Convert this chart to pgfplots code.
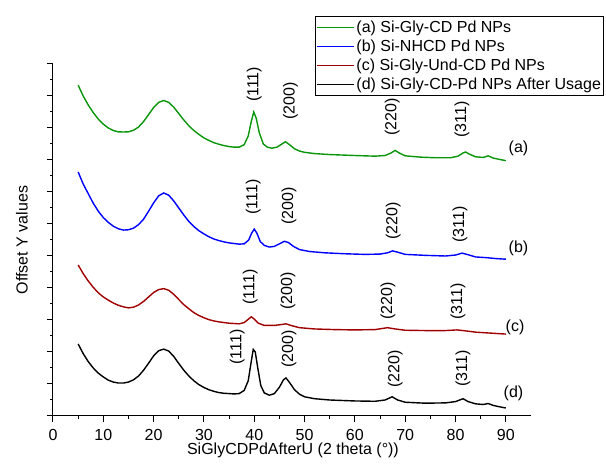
\documentclass[border=0pt]{standalone}
\usepackage{fontspec}
\setmainfont{Liberation Sans}
\usepackage{pgfplots}
\pgfplotsset{compat=1.18}
\definecolor{cA}{RGB}{10,150,10}
\definecolor{cB}{RGB}{0,0,255}
\definecolor{cC}{RGB}{160,0,0}
\definecolor{cD}{RGB}{0,0,0}

\begin{document}
\begin{tikzpicture}[font=\fontsize{8}{9.6}\selectfont]
\begin{axis}[
  scale only axis, width=239pt, height=176pt,
  xmin=0, xmax=95, ymin=0, ymax=11,
  axis lines=left, axis line style={-, line width=0.5pt},
  xtick={0,10,...,90}, minor x tick num=1,
  ytick={0,1,...,11}, yticklabels={}, minor y tick num=1,
  tick align=outside, major tick length=3pt, minor tick length=1.5pt,
  tick style={black, line width=0.5pt},
  /pgf/number format/assume math mode=true,
  ticklabel style={font=\fontsize{8}{9.6}\selectfont},
  xlabel={SiGlyCDPdAfterU (2 theta (°))},
  ylabel={Offset Y values},
  every axis x label/.style={at={(axis description cs:0.502,-0.097)}, anchor=center},
  every axis y label/.style={at={(axis description cs:-0.065,0.5)}, rotate=90, anchor=center},
  legend style={at={(axis description cs:0.548,1.136)}, anchor=north west,
    draw=black, line width=0.5pt, font=\fontsize{8}{9.5}\selectfont,
    inner xsep=0.7pt, inner ysep=0.8pt, row sep=0pt,
    nodes={inner sep=0.8pt, text height=6.2pt, text depth=1.7pt},
    cells={anchor=west}},
  legend image code/.code={\draw[#1, line width=0.5pt] (0pt,0pt) -- (18.5pt,0pt);},
  every axis plot/.append style={line width=0.7pt},
]
% (a)
\addplot[cA] coordinates {
(5,10.34) (6,10.0) (7,9.72) (8,9.48) (9,9.28) (10,9.12) (11,9.0) (12,8.92) (13,8.88) (14,8.875)
(15,8.88) (16,8.93) (17,9.03) (18,9.2) (19,9.42) (20,9.64) (21,9.8) (22,9.86) (23,9.8) (24,9.65)
(25,9.45) (26,9.25) (27,9.07) (28,8.92) (29,8.8) (30,8.69) (31,8.61) (32,8.54) (33,8.49) (34,8.45)
(35,8.42) (36,8.4) (37,8.4) (38,8.48) (38.8,8.75) (39.4,9.2) (39.9,9.5) (40.4,9.3) (41,8.85) (41.8,8.5)
(42.6,8.4) (43.5,8.37) (44.5,8.4) (45.5,8.5) (46.2,8.57) (47,8.48) (48,8.35) (49,8.28) (50,8.24) (52,8.2)
(55,8.17) (60,8.14) (64,8.12) (66,8.14) (67.2,8.22) (68,8.3) (68.8,8.22) (70,8.13) (73,8.09) (76,8.07)
(79,8.07) (80.5,8.12) (81.5,8.22) (82,8.25) (82.8,8.18) (84,8.1) (85.5,8.08) (86.5,8.13) (87.5,8.06) (89,8.01) (90,7.98)
};
\addlegendentry{(a) Si-Gly-CD Pd NPs}
% (b)
\addplot[cB] coordinates {
(5,7.625) (6,7.25) (7,6.95) (8,6.65) (9,6.4) (10,6.2) (11,6.05) (12,5.93) (13,5.85) (14,5.81)
(15,5.82) (16,5.87) (17,5.98) (18,6.15) (19,6.4) (20,6.66) (21,6.88) (22,6.97) (23,6.9) (24,6.72)
(25,6.5) (26,6.28) (27,6.08) (28,5.92) (29,5.79) (30,5.69) (31,5.6) (32,5.53) (33,5.48) (34,5.44)
(35,5.41) (36,5.39) (37,5.37) (38,5.38) (38.9,5.5) (39.5,5.72) (40,5.84) (40.5,5.72) (41.2,5.45) (42,5.33)
(43,5.28) (44,5.3) (45,5.38) (46,5.46) (46.8,5.42) (47.8,5.3) (49,5.2) (51,5.14) (54,5.1) (58,5.07)
(62,5.05) (65,5.06) (66.5,5.1) (67.5,5.16) (68.5,5.12) (70,5.05) (74,5.02) (78,5.0) (80,5.03) (81.3,5.09)
(82.5,5.04) (84,4.97) (86,4.95) (88,4.92) (90,4.9)
};
\addlegendentry{(b) Si-NHCD Pd NPs}
% (c)
\addplot[cC] coordinates {
(5,4.72) (6,4.45) (7,4.22) (8,4.02) (9,3.85) (10,3.72) (11,3.62) (12,3.53) (13,3.46) (14,3.41)
(15,3.38) (16,3.4) (17,3.47) (18,3.58) (19,3.72) (20,3.86) (21,3.95) (22,3.98) (23,3.93) (24,3.8)
(25,3.64) (26,3.48) (27,3.35) (28,3.23) (29,3.14) (30,3.07) (31,3.01) (32,2.97) (33,2.94) (34,2.92)
(35,2.9) (36,2.89) (37,2.88) (38,2.92) (38.8,3.02) (39.4,3.1) (40,3.03) (40.8,2.9) (42,2.83) (44,2.83)
(45.5,2.86) (46.3,2.88) (47.5,2.82) (49,2.76) (52,2.72) (56,2.7) (60,2.69) (64,2.7) (66.5,2.76) (68,2.72)
(70,2.68) (74,2.67) (78,2.67) (80.3,2.69) (82,2.66) (84,2.62) (87,2.59) (90,2.56)
};
\addlegendentry{(c) Si-Gly-Und-CD Pd NPs}
% (d)
\addplot[cD] coordinates {
(5,2.25) (6,1.95) (7,1.7) (8,1.5) (9,1.34) (10,1.22) (11,1.12) (12,1.06) (13,1.03) (14,1.03)
(15,1.06) (16,1.13) (17,1.25) (18,1.43) (19,1.65) (20,1.88) (21,2.04) (22,2.09) (23,2.03) (24,1.86)
(25,1.64) (26,1.43) (27,1.25) (28,1.1) (29,0.98) (30,0.89) (31,0.82) (32,0.77) (33,0.73) (34,0.71)
(35,0.7) (36,0.69) (37,0.7) (38,0.8) (38.8,1.1) (39.4,1.7) (39.8,2.08) (40.2,2.0) (40.7,1.5) (41.3,0.95)
(42,0.72) (43,0.65) (44,0.7) (45,0.9) (45.8,1.13) (46.3,1.19) (47,1.05) (48,0.82) (49,0.68) (50,0.6)
(52,0.54) (55,0.5) (60,0.47) (64,0.46) (66,0.5) (67.4,0.6) (68.5,0.5) (70,0.43) (74,0.4) (78,0.41)
(80,0.45) (81.5,0.54) (82.5,0.45) (84,0.38) (85.5,0.36) (86.5,0.39) (87.5,0.33) (89,0.28) (90,0.25)
};
\addlegendentry{(d) Si-Gly-CD-Pd NPs After Usage}

\begin{scope}[every node/.style={rotate=90, anchor=west, inner sep=0pt}]
\node at (axis cs:40.0,9.8) {(111)};
\node at (axis cs:47.2,9.25) {(200)};
\node at (axis cs:67.4,8.75) {(220)};
\node at (axis cs:81.3,8.69) {(311)};
\node at (axis cs:39.8,6.28) {(111)};
\node at (axis cs:46.9,5.97) {(200)};
\node at (axis cs:67.6,5.5) {(220)};
\node at (axis cs:80.9,5.4) {(311)};
\node at (axis cs:39.2,3.47) {(111)};
\node at (axis cs:46.7,3.31) {(200)};
\node at (axis cs:66.6,3.0) {(220)};
\node at (axis cs:80.5,3.0) {(311)};
\node at (axis cs:36.6,1.6) {(111)};
\node at (axis cs:46.9,1.5) {(200)};
\node at (axis cs:68.0,0.875) {(220)};
\node at (axis cs:81.5,0.9) {(311)};
\end{scope}
\begin{scope}[every node/.style={anchor=west, inner sep=0pt}]
\node at (axis cs:90.5,8.375) {(a)};
\node at (axis cs:90.5,5.25) {(b)};
\node at (axis cs:89.9,2.78) {(c)};
\node at (axis cs:89.5,0.72) {(d)};
\end{scope}
\end{axis}
\pgfresetboundingbox
\path (-26.5pt,-25pt) rectangle (276.5pt,208pt);
\end{tikzpicture}
\end{document}
